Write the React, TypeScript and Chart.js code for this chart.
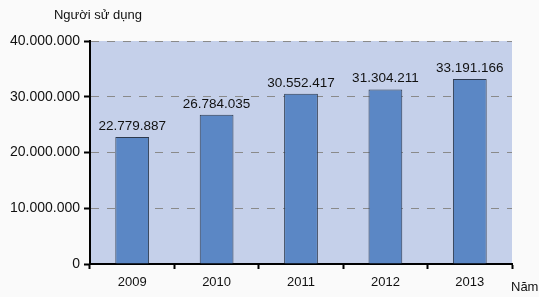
import React, { useEffect, useRef } from "react";
import { Chart, registerables } from "chart.js";

Chart.register(...registerables);

const categories = ["2009", "2010", "2011", "2012", "2013"];
const users = [22779887, 26784035, 30552417, 31304211, 33191166];
const yTicks = [0, 10000000, 20000000, 30000000, 40000000];
const yTitle = "Người sử dụng";
const xTitle = "Năm";

const FONT = "'Liberation Sans', Arial, sans-serif";

function fmt(v: number): string {
  return String(Math.round(v)).replace(/\B(?=(\d{3})+(?!\d))/g, ".");
}

export default function App() {
  const ref = useRef<HTMLCanvasElement | null>(null);
  useEffect(() => {
    document.body.style.margin = "0";
    document.body.style.background = "#fafafa";
    const ctx = ref.current!.getContext("2d")!;
    const bgPlugin = {
      id: "bg",
      beforeDraw(chart: any) {
        const { ctx, chartArea: a } = chart;
        ctx.save();
        ctx.fillStyle = "#c5d0ea";
        ctx.fillRect(a.left, a.top, a.right - a.left, a.bottom - a.top);
        ctx.restore();
      },
    };
    const textPlugin = {
      id: "texts",
      afterDatasetsDraw(chart: any) {
        const { ctx } = chart;
        const meta = chart.getDatasetMeta(0);
        ctx.save();
        ctx.setLineDash([]);
        ctx.fillStyle = "#111";
        ctx.font = `13.5px ${FONT}`;
        ctx.textAlign = "center";
        ctx.textBaseline = "bottom";
        meta.data.forEach((bar: any, i: number) => {
          ctx.fillText(fmt(users[i]), bar.x, bar.y - 4);
        });
        ctx.font = `13px ${FONT}`;
        ctx.textBaseline = "middle";
        ctx.fillText(yTitle, 98, 15);
        ctx.textAlign = "left";
        ctx.fillText(xTitle, 511, 287);
        ctx.restore();
      },
    };
    const chart = new Chart(ctx, {
      type: "bar",
      data: {
        labels: categories,
        datasets: [
          {
            data: users,
            backgroundColor: "#5b87c5",
            borderColor: "#2e3a4e",
            borderWidth: 1,
            borderSkipped: "bottom",
            barPercentage: 0.4,
            categoryPercentage: 1,
          },
        ],
      },
      options: {
        animation: false,
        responsive: false,
        devicePixelRatio: 1,
        layout: { padding: { top: 41, right: 27, left: 0, bottom: 0 } },
        plugins: { legend: { display: false }, tooltip: { enabled: false } },
        scales: {
          x: {
            grid: {
              offset: true,
              drawOnChartArea: false,
              drawTicks: true,
              tickLength: 5,
              tickColor: "#000",
              tickWidth: 2,
            },
            border: { display: true, color: "#000", width: 2 },
            ticks: { color: "#111", font: { family: FONT, size: 13 }, padding: 6 },
            afterFit(s: any) {
              s.height = 33;
            },
          },
          y: {
            min: 0,
            max: 40000000,
            afterBuildTicks(s: any) {
              s.ticks = yTicks.map((v) => ({ value: v }));
            },
            grid: {
              color: "#8a8a8a",
              lineWidth: 1,
              drawTicks: true,
              tickLength: 6,
              tickColor: "#000",
              tickWidth: 2,
              tickBorderDash: [],
            },
            border: { display: true, color: "#000", width: 2, dash: [8, 8] },
            ticks: {
              color: "#111",
              font: { family: FONT, size: 14 },
              padding: 4,
              callback: (v: any) => fmt(Number(v)),
            },
            afterFit(s: any) {
              s.width = 90;
            },
          },
        },
      },
      plugins: [bgPlugin, textPlugin],
    });
    return () => chart.destroy();
  }, []);
  return <canvas ref={ref} width={539} height={297} style={{ display: "block" }} />;
}
